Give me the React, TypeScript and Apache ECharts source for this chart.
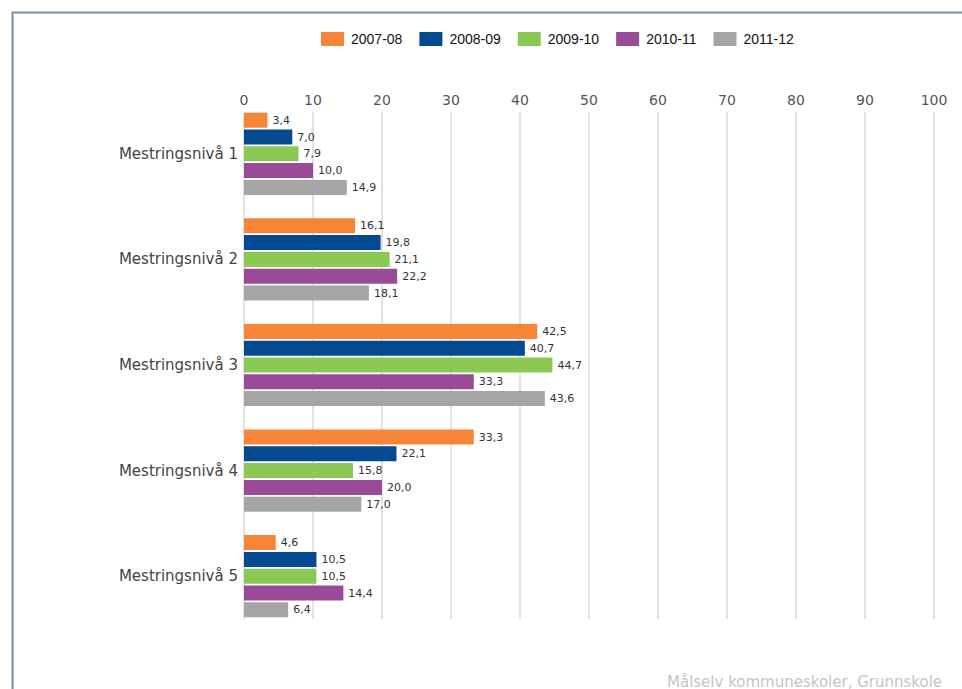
import React, { useEffect, useRef } from "react";
import * as echarts from "echarts";

const categories = ["Mestringsnivå 1", "Mestringsnivå 2", "Mestringsnivå 3", "Mestringsnivå 4", "Mestringsnivå 5"];
const seriesNames = ["2007-08", "2008-09", "2009-10", "2010-11", "2011-12"];
const s2007 = [3.4, 16.1, 42.5, 33.3, 4.6];
const s2008 = [7.0, 19.8, 40.7, 22.1, 10.5];
const s2009 = [7.9, 21.1, 44.7, 15.8, 10.5];
const s2010 = [10.0, 22.2, 33.3, 20.0, 14.4];
const s2011 = [14.9, 18.1, 43.6, 17.0, 6.4];
const seriesValues = [s2007, s2008, s2009, s2010, s2011];
const colors = ["#f68537", "#034a91", "#8bc954", "#9a4b98", "#a5a5a5"];
const footer = "Målselv kommuneskoler, Grunnskole";

export default function App() {
  const ref = useRef<HTMLDivElement>(null);
  useEffect(() => {
    if (!ref.current) return;
    const chart = echarts.init(ref.current, null, { renderer: "svg" });
    const fmt = (v: number) => v.toFixed(1).replace(".", ",");
    chart.setOption({
      animation: false,
      backgroundColor: "#ffffff",
      legend: {
        left: 316,
        top: 27,
        icon: "rect",
        itemWidth: 23,
        itemHeight: 14,
        itemGap: 17,
        data: seriesNames,
        textStyle: { fontFamily: "Liberation Sans", fontSize: 14, color: "#111", padding: [0, 0, 0, 2] },
      },
      grid: [
        { left: 244, right: 28, top: 101, bottom: 60, containLabel: false },
        { left: 244, right: 28, top: 112, bottom: 70, containLabel: false },
      ],
      xAxis: [
        {
          gridIndex: 0,
          type: "value",
          min: 0,
          max: 100,
          interval: 10,
          show: false,
          splitLine: { show: false },
        },
        {
          gridIndex: 1,
          type: "value",
          position: "top",
          min: 0,
          max: 100,
          interval: 10,
          axisLine: { show: false },
          axisTick: { show: false },
          axisLabel: { margin: 5, fontFamily: "DejaVu Sans", fontSize: 14, color: "#555" },
          splitLine: { show: true, lineStyle: { color: "#e2e2e2", width: 2 } },
        },
      ],
      yAxis: [
        {
          gridIndex: 0,
          type: "category",
          inverse: true,
          data: categories,
          axisLine: { show: false },
          axisTick: { show: false },
          axisLabel: { margin: 6, fontFamily: "DejaVu Sans", fontSize: 15, color: "#444" },
        },
        {
          gridIndex: 1,
          type: "category",
          inverse: true,
          data: categories,
          show: false,
        },
      ],
      series: seriesNames.map((name, i) => ({
        name,
        type: "bar",
        xAxisIndex: 0,
        yAxisIndex: 0,
        data: seriesValues[i],
        barWidth: 15,
        barGap: "12%",
        itemStyle: { color: colors[i] },
        label: {
          show: true,
          position: "right",
          distance: 5,
          fontFamily: "DejaVu Sans",
          fontSize: 11,
          color: "#333",
          formatter: (p: any) => fmt(p.value),
        },
      })),
      graphic: [
        {
          type: "rect",
          left: 10,
          top: 10,
          shape: { x: 0, y: 0, width: 1000, height: 1000 },
          style: { fill: "none", stroke: "#6f8fae", lineWidth: 2 },
          silent: true,
        },
        {
          type: "text",
          left: 667,
          top: 674,
          style: { text: footer, fontFamily: "DejaVu Sans", fontSize: 15, fill: "#c4c4c4" },
        },
      ],
    });
    return () => chart.dispose();
  }, []);
  return (
    <div
      ref={ref}
      style={{ position: "absolute", left: 0, top: 0, width: 962, height: 689 }}
    />
  );
}
